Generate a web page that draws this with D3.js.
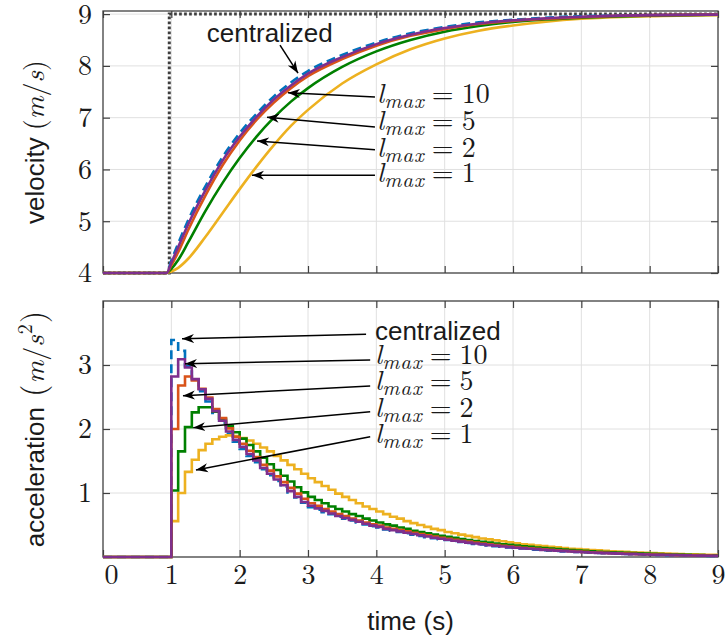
<!DOCTYPE html>
<html>
<head>
<meta charset="utf-8">
<script src="https://cdn.jsdelivr.net/npm/d3@7"></script>
<style>
  body { margin: 0; background: #fff; }
  svg { display: block; }
</style>
</head>
<body>
<svg id="chart" width="726" height="640"></svg>
<script>
// ---------- velocity (m/s), sampled in time (s) ----------
const velTime    = [0, 0.93, 1.0, 1.1, 1.25, 1.5, 1.75, 2.0, 2.25, 2.5, 2.75, 3.0, 3.5, 4.0, 4.5, 5.0, 5.5, 6.0, 7.0, 8.0, 9.0];
const velCentral = [4, 4, 4.24, 4.57, 5.03, 5.68, 6.24, 6.70, 7.08, 7.41, 7.68, 7.90, 8.21, 8.45, 8.63, 8.75, 8.84, 8.89, 8.96, 8.98, 8.99];
const velL10     = [4, 4, 4.20, 4.50, 4.95, 5.60, 6.17, 6.63, 7.02, 7.35, 7.62, 7.85, 8.17, 8.42, 8.60, 8.73, 8.82, 8.88, 8.95, 8.98, 8.99];
const velL5      = [4, 4, 4.15, 4.40, 4.84, 5.50, 6.08, 6.56, 6.96, 7.29, 7.57, 7.80, 8.13, 8.39, 8.58, 8.71, 8.81, 8.87, 8.94, 8.98, 8.99];
const velL2      = [4, 4, 4.08, 4.25, 4.60, 5.20, 5.74, 6.22, 6.64, 7.00, 7.31, 7.57, 7.98, 8.28, 8.50, 8.66, 8.77, 8.85, 8.93, 8.97, 8.99];
const velL1      = [4, 4, 4.03, 4.10, 4.28, 4.70, 5.16, 5.62, 6.06, 6.47, 6.84, 7.15, 7.66, 8.03, 8.32, 8.53, 8.68, 8.78, 8.91, 8.96, 8.98];

// reference speed step
const refTime  = [0, 0.97, 0.97, 9];
const refSpeed = [4, 4, 9, 9];

// ---------- acceleration (m/s^2), one value per 0.1 s step from t = 1 s ----------
const accCentral = [
  3.39, 3.22, 2.98, 2.77, 2.59, 2.43, 2.25, 2.10, 1.93, 1.80,
  1.69, 1.58, 1.48, 1.37, 1.28, 1.19, 1.10, 1.01, 0.93, 0.85,
  0.78, 0.74, 0.70, 0.67, 0.63, 0.60, 0.57, 0.54, 0.51, 0.48,
  0.46, 0.43, 0.41, 0.39, 0.37, 0.35, 0.33, 0.31, 0.295, 0.28,
  0.265, 0.25, 0.235, 0.22, 0.205, 0.195, 0.18, 0.17, 0.16, 0.15,
  0.14, 0.132, 0.124, 0.116, 0.108, 0.10, 0.094, 0.088, 0.082, 0.077,
  0.072, 0.067, 0.062, 0.058, 0.054, 0.05, 0.046, 0.043, 0.04, 0.037,
  0.034, 0.031, 0.029, 0.027, 0.025, 0.023, 0.021, 0.019, 0.018, 0.016
];
const accL10 = [
  2.82, 3.09, 2.96, 2.78, 2.62, 2.47, 2.28, 2.13, 1.96, 1.83,
  1.72, 1.61, 1.51, 1.39, 1.30, 1.21, 1.12, 1.03, 0.94, 0.86,
  0.80, 0.76, 0.72, 0.68, 0.64, 0.61, 0.58, 0.55, 0.52, 0.49,
  0.47, 0.44, 0.42, 0.40, 0.38, 0.36, 0.34, 0.32, 0.30, 0.285,
  0.27, 0.255, 0.24, 0.225, 0.21, 0.20, 0.185, 0.175, 0.165, 0.155,
  0.145, 0.135, 0.128, 0.12, 0.112, 0.105, 0.098, 0.092, 0.086, 0.08,
  0.075, 0.07, 0.065, 0.06, 0.056, 0.052, 0.048, 0.045, 0.042, 0.039,
  0.036, 0.033, 0.031, 0.029, 0.027, 0.025, 0.023, 0.021, 0.02, 0.018
];
const accL5 = [
  2.00, 2.68, 2.82, 2.76, 2.63, 2.49, 2.31, 2.17, 2.01, 1.88,
  1.77, 1.66, 1.56, 1.44, 1.35, 1.26, 1.17, 1.08, 0.99, 0.91,
  0.84, 0.80, 0.75, 0.71, 0.67, 0.64, 0.60, 0.57, 0.54, 0.51,
  0.49, 0.46, 0.44, 0.42, 0.40, 0.38, 0.36, 0.34, 0.32, 0.30,
  0.285, 0.27, 0.255, 0.24, 0.225, 0.21, 0.197, 0.186, 0.175, 0.165,
  0.155, 0.145, 0.136, 0.128, 0.12, 0.112, 0.105, 0.098, 0.092, 0.086,
  0.08, 0.075, 0.07, 0.065, 0.06, 0.056, 0.052, 0.049, 0.045, 0.042,
  0.039, 0.036, 0.034, 0.031, 0.029, 0.027, 0.025, 0.023, 0.021, 0.02
];
const accL2 = [
  1.04, 1.65, 2.03, 2.26, 2.34, 2.34, 2.27, 2.16, 2.05, 1.95,
  1.85, 1.75, 1.65, 1.55, 1.45, 1.36, 1.27, 1.18, 1.09, 1.01,
  0.94, 0.89, 0.84, 0.79, 0.75, 0.71, 0.67, 0.64, 0.60, 0.57,
  0.54, 0.51, 0.49, 0.46, 0.44, 0.41, 0.39, 0.37, 0.35, 0.33,
  0.315, 0.30, 0.28, 0.265, 0.25, 0.237, 0.224, 0.21, 0.20, 0.19,
  0.18, 0.168, 0.158, 0.148, 0.14, 0.131, 0.123, 0.116, 0.109, 0.102,
  0.095, 0.089, 0.083, 0.078, 0.073, 0.068, 0.064, 0.06, 0.056, 0.052,
  0.049, 0.046, 0.043, 0.04, 0.037, 0.035, 0.032, 0.03, 0.028, 0.026
];
const accL1 = [
  0.56, 1.00, 1.33, 1.52, 1.67, 1.77, 1.84, 1.88, 1.90, 1.89,
  1.86, 1.82, 1.77, 1.71, 1.65, 1.58, 1.51, 1.44, 1.37, 1.30,
  1.23, 1.17, 1.11, 1.05, 0.99, 0.94, 0.89, 0.84, 0.79, 0.75,
  0.71, 0.67, 0.63, 0.60, 0.56, 0.53, 0.50, 0.47, 0.44, 0.42,
  0.39, 0.37, 0.35, 0.33, 0.31, 0.29, 0.275, 0.26, 0.245, 0.23,
  0.215, 0.20, 0.19, 0.18, 0.17, 0.16, 0.15, 0.14, 0.13, 0.125,
  0.117, 0.11, 0.103, 0.097, 0.09, 0.085, 0.08, 0.075, 0.07, 0.065,
  0.06, 0.056, 0.053, 0.05, 0.047, 0.044, 0.041, 0.038, 0.035, 0.033
];
const accStart = 1.0;   // s, first control step
const accStep  = 0.1;   // s, sample period

// ---------- ticks ----------
const timeTicks = [0, 1, 2, 3, 4, 5, 6, 7, 8, 9];
const velTicks  = [4, 5, 6, 7, 8, 9];
const accTicks  = [1, 2, 3];

// ---------- series: label and colour ----------
const seriesNames  = ['centralized', '10', '5', '2', '1'];
const seriesColors = ['#0072BD', '#7E2F8E', '#D95319', '#008000', '#EDB120'];

// annotation arrows: [tailTime, tailValue, tipTime, tipValue]
const velArrows = [
  [2.59, 8.40, 2.854, 7.86],
  [3.98, 7.40, 2.707, 7.48],
  [3.98, 6.82, 2.40, 7.01],
  [3.98, 6.38, 2.254, 6.55],
  [3.98, 5.89, 2.18, 5.89]
];
const accArrows = [
  [3.85, 3.48, 1.156, 3.41],
  [3.91, 3.08, 1.20, 3.02],
  [3.91, 2.67, 1.17, 2.52],
  [3.91, 2.27, 1.32, 2.02],
  [3.91, 1.88, 1.36, 1.36]
];
// label baselines: [time, value]
const velLabelPos = [[1.52, 8.46], [4.01, 7.28], [4.01, 6.76], [4.01, 6.24], [4.01, 5.76]];
const accLabelPos = [[3.98, 3.39], [3.98, 3.02], [3.98, 2.61], [3.98, 2.19], [3.98, 1.78]];

// ---------- layout ----------
const svg = d3.select('#chart');
const plotL = 103, plotR = 718;
const velTop = 11, velBot = 273, accTop = 301, accBot = 557;

const x  = d3.scaleLinear().domain([0, 9]).range([plotL, plotR]);
const yV = d3.scaleLinear().domain([4, 9.06]).range([velBot, velTop]);
const yA = d3.scaleLinear().domain([0, 4]).range([accBot, accTop]);

const SERIF = "'Latin Modern Roman', 'Liberation Serif', serif";
const SANS  = "'Liberation Sans', Arial, sans-serif";
const INK   = '#1a1a1a';
const AXIS  = '#404040';
const GRID  = '#e0e0e0';

// arrowhead
svg.append('defs').append('marker')
  .attr('id', 'head')
  .attr('markerUnits', 'userSpaceOnUse')
  .attr('viewBox', '-12 -6 14 12')
  .attr('refX', 0).attr('refY', 0)
  .attr('markerWidth', 14).attr('markerHeight', 12)
  .attr('orient', 'auto')
  .append('path')
  .attr('d', 'M0,0 L-12,-4.5 L-8.5,0 L-12,4.5 Z')
  .attr('fill', '#000');

function drawFrame(y, top, bot, ticksY, withXLabels) {
  const g = svg.append('g');
  // grid
  g.append('g').selectAll('line').data(timeTicks.slice(1, -1)).join('line')
    .attr('x1', d => x(d)).attr('x2', d => x(d))
    .attr('y1', top).attr('y2', bot)
    .attr('stroke', GRID).attr('stroke-width', 1);
  g.append('g').selectAll('line').data(ticksY.filter(d => y(d) > top + 1 && y(d) < bot - 1)).join('line')
    .attr('x1', plotL).attr('x2', plotR)
    .attr('y1', d => y(d)).attr('y2', d => y(d))
    .attr('stroke', GRID).attr('stroke-width', 1);

  // inward ticks on all four sides
  const tk = 7;
  const fmt = d3.format('d');
  const axB = d3.axisBottom(x).tickValues(timeTicks).tickSizeInner(-tk).tickSizeOuter(0).tickPadding(7)
    .tickFormat(withXLabels ? fmt : '');
  const gB = g.append('g').attr('transform', `translate(0,${bot})`).call(axB);
  const gT = g.append('g').attr('transform', `translate(0,${top})`)
    .call(d3.axisTop(x).tickValues(timeTicks).tickSizeInner(-tk).tickSizeOuter(0).tickFormat(''));
  const gL = g.append('g').attr('transform', `translate(${plotL},0)`)
    .call(d3.axisLeft(y).tickValues(ticksY).tickSizeInner(-tk).tickSizeOuter(0).tickPadding(11).tickFormat(fmt));
  const gR = g.append('g').attr('transform', `translate(${plotR},0)`)
    .call(d3.axisRight(y).tickValues(ticksY).tickSizeInner(-tk).tickSizeOuter(0).tickFormat(''));
  [gB, gT, gL, gR].forEach(a => {
    a.attr('font-family', null).attr('font-size', null);
    a.select('.domain').remove();
    a.selectAll('.tick line').attr('stroke', AXIS).attr('stroke-width', 1.2);
    a.selectAll('.tick text').attr('fill', INK).style('font-family', SERIF).style('font-size', '28px');
  });
  if (withXLabels) {
    gB.selectAll('.tick text').attr('dx', d => d === 0 ? 8 : 0);
  }
  return g;
}

function drawBox(top, bot) {
  svg.append('rect')
    .attr('x', plotL).attr('y', top)
    .attr('width', plotR - plotL).attr('height', bot - top)
    .attr('fill', 'none').attr('stroke', AXIS).attr('stroke-width', 1.3);
}

// ---------- velocity panel ----------
drawFrame(yV, velTop, velBot, velTicks, false);
drawBox(velTop, velBot);

const velLine = d3.line().x(d => x(d[0])).y(d => yV(d[1])).curve(d3.curveMonotoneX);
const velSeries = [velCentral, velL10, velL5, velL2, velL1];

svg.append('path')
  .attr('d', d3.line().x((d, i) => x(refTime[i])).y(d => yV(d))(refSpeed))
  .attr('fill', 'none').attr('stroke', '#3d3d3d')
  .attr('stroke-width', 3).attr('stroke-dasharray', '2.7,2.3');

// draw order: centralized, then l=1, 2, 5, 10 on top
[0, 4, 3, 2, 1].forEach(i => {
  svg.append('path')
    .attr('d', velLine(velTime.map((t, k) => [t, velSeries[i][k]])))
    .attr('fill', 'none')
    .attr('stroke', seriesColors[i])
    .attr('stroke-width', 2.6)
    .attr('stroke-dasharray', i === 0 ? '9,5' : null);
});

// ---------- acceleration panel ----------
drawFrame(yA, accTop, accBot, accTicks, true);
drawBox(accTop, accBot);

const accSeries = [accCentral, accL10, accL5, accL2, accL1];
const accLine = d3.line().x(d => x(d[0])).y(d => yA(d[1])).curve(d3.curveStepAfter);
function stairs(vals) {
  const pts = [[0, 0]];
  vals.forEach((v, k) => pts.push([accStart + k * accStep, v]));
  pts.push([x.domain()[1], vals[vals.length - 1]]);
  return pts;
}
[0, 4, 3, 2, 1].forEach(i => {
  svg.append('path')
    .attr('d', accLine(stairs(accSeries[i])))
    .attr('fill', 'none')
    .attr('stroke', seriesColors[i])
    .attr('stroke-width', 2.6)
    .attr('stroke-linejoin', 'miter')
    .attr('stroke-dasharray', i === 0 ? '9,5' : null);
});

// ---------- annotations ----------
function arrows(list, y) {
  svg.append('g').selectAll('line').data(list).join('line')
    .attr('x1', d => x(d[0])).attr('y1', d => y(d[1]))
    .attr('x2', d => x(d[2])).attr('y2', d => y(d[3]))
    .attr('stroke', '#000').attr('stroke-width', 1.5)
    .attr('marker-end', 'url(#head)');
}
function labels(pos, y) {
  pos.forEach((p, i) => {
    const t = svg.append('text')
      .attr('x', x(p[0])).attr('y', y(p[1]))
      .attr('fill', INK);
    if (i === 0) {
      t.style('font-family', SANS).style('font-size', '26px').text(seriesNames[0]);
    } else {
      t.style('font-family', SERIF).style('font-size', '28px');
      t.append('tspan').style('font-style', 'italic').text('l');
      t.append('tspan').style('font-style', 'italic').style('font-size', '21px')
        .style('letter-spacing', '1px').attr('dy', 5).text('max');
      t.append('tspan').attr('dy', -5).attr('dx', 7).text('=');
      t.append('tspan').attr('dx', 8).text(seriesNames[i]);
    }
  });
}
arrows(velArrows, yV);
labels(velLabelPos, yV);
arrows(accArrows, yA);
labels(accLabelPos, yA);

// ---------- axis titles ----------
const tV = svg.append('text')
  .attr('transform', `translate(44,${(velTop + velBot) / 2}) rotate(-90)`)
  .attr('text-anchor', 'middle').attr('fill', INK)
  .style('font-size', '26px');
tV.append('tspan').style('font-family', SANS).text('velocity');
tV.append('tspan').style('font-family', SERIF).style('font-size', '28px').attr('dx', 7).text('(');
tV.append('tspan').style('font-family', SERIF).style('font-size', '28px').style('font-style', 'italic').text('m');
tV.append('tspan').style('font-family', SERIF).style('font-size', '28px').text('/');
tV.append('tspan').style('font-family', SERIF).style('font-size', '28px').style('font-style', 'italic').text('s');
tV.append('tspan').style('font-family', SERIF).style('font-size', '28px').text(')');

const tA = svg.append('text')
  .attr('transform', `translate(44,${(accTop + accBot) / 2}) rotate(-90)`)
  .attr('text-anchor', 'middle').attr('fill', INK)
  .style('font-size', '26px');
tA.append('tspan').style('font-family', SANS).text('acceleration');
tA.append('tspan').style('font-family', SERIF).style('font-size', '32px').attr('dx', 10).text('(');
tA.append('tspan').style('font-family', SERIF).style('font-size', '28px').style('font-style', 'italic').attr('dx', 1).text('m');
tA.append('tspan').style('font-family', SERIF).style('font-size', '28px').text('/');
tA.append('tspan').style('font-family', SERIF).style('font-size', '28px').style('font-style', 'italic').text('s');
tA.append('tspan').style('font-family', SERIF).style('font-size', '20px').attr('dy', -12).attr('dx', 1).text('2');
tA.append('tspan').style('font-family', SERIF).style('font-size', '32px').attr('dy', 12).attr('dx', 1).text(')');

svg.append('text')
  .attr('x', (plotL + plotR) / 2).attr('y', 630)
  .attr('text-anchor', 'middle').attr('fill', INK)
  .style('font-family', SANS).style('font-size', '26px')
  .text('time (s)');
</script>
</body>
</html>
